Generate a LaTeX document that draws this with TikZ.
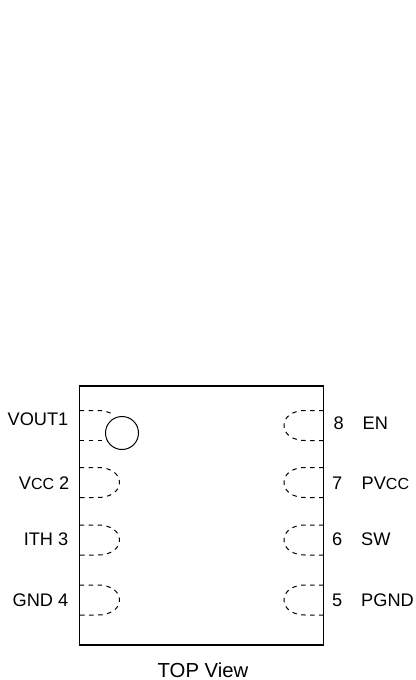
\documentclass[tikz,border=0pt]{standalone}
\usepackage{fontspec}
\setmainfont{Liberation Sans}
\newcommand{\smc}[1]{{\fontsize{16}{18}\selectfont #1}}
\tikzset{
  pinlabel/.style={inner sep=0pt,font=\fontsize{18.2}{20}\selectfont},
  padl/.style={dash pattern=on 4.5pt off 4.5pt,line width=1pt},
}
\begin{document}
\begin{tikzpicture}[x=1pt,y=-1pt]
\useasboundingbox (0,0) rectangle (415,680);
\draw[line width=1.1pt] (79.5,386) rectangle (323.5,645);
\draw[line width=1pt,fill=white] (122,433) circle[radius=16.5];
% left pads
\draw[padl] (79.5,410.5) -- (98,410.5) .. controls (104,410.5) and (109,412) .. (113,414.5);
\draw[padl] (79.5,440.5) -- (107,440.5);
\foreach \y in {467.5,525,585}{
  \draw[padl] (79.5,\y) -- (98,\y) .. controls (110,\y) and (119.5,\y+6) .. (119.5,\y+15)
     .. controls (119.5,\y+24) and (110,\y+30) .. (98,\y+30) -- (79.5,\y+30);
}
% right pads
\foreach \y in {410.5,467.5,525,585}{
  \draw[padl] (323.5,\y) -- (305,\y) .. controls (293,\y) and (284,\y+6) .. (284,\y+15)
     .. controls (284,\y+24) and (293,\y+30) .. (305,\y+30) -- (323.5,\y+30);
}
\node[pinlabel,anchor=base east] (p1) at (68.5,425) {VOUT1};
\node[pinlabel,anchor=base east] (p2) at (69.5,489) {V\smc{CC} 2};
\node[pinlabel,anchor=base east] (p3) at (68.5,545) {ITH 3};
\node[pinlabel,anchor=base east] (p4) at (68.5,606) {GND 4};
\node[pinlabel,anchor=base west] (p8) at (333.5,429.5) {8};
\node[pinlabel,anchor=base west] (p7) at (332,489) {7};
\node[pinlabel,anchor=base west] (p6) at (332,545) {6};
\node[pinlabel,anchor=base west] (p5) at (332,606) {5};
\node[pinlabel,anchor=base west] (n8) at (362.5,429.5) {EN};
\node[pinlabel,anchor=base west] (n7) at (361.5,489) {PV\smc{CC}};
\node[pinlabel,anchor=base west] (n6) at (361,545) {SW};
\node[pinlabel,anchor=base west] (n5) at (361,606) {PGND};
\node[inner sep=0pt,font=\fontsize{20.3}{22}\selectfont,anchor=base] (t) at (203,677) {TOP View};
\end{tikzpicture}
\end{document}
